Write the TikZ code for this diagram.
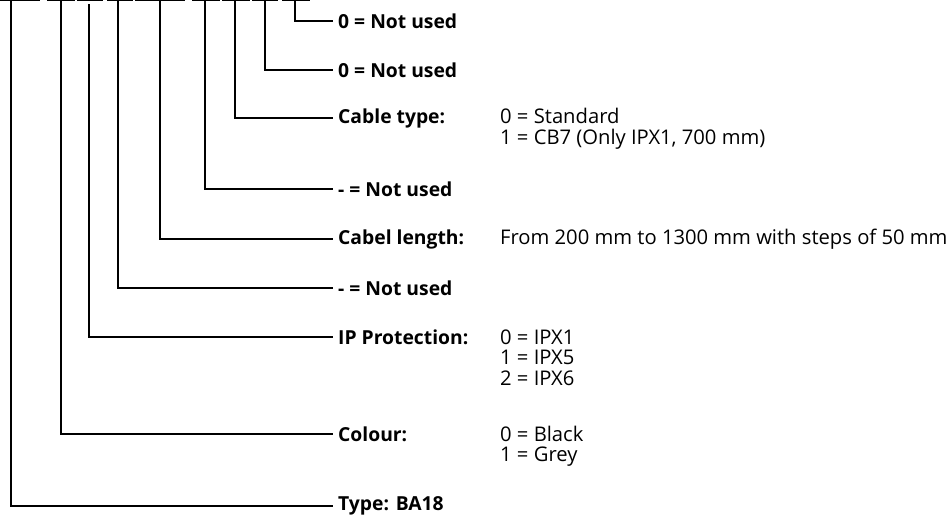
\documentclass[tikz,border=0pt]{standalone}
\usepackage{fontspec}
\setmainfont{Open Sans}
\begin{document}
\begin{tikzpicture}[x=1pt,y=-1pt,
  lead/.style={line width=1.5pt,line cap=rect},
  topbar/.style={line width=1.6pt},
  lbl/.style={anchor=west,inner sep=0pt,font=\fontsize{19.3}{20}\selectfont\bfseries},
  val/.style={anchor=base west,inner sep=0pt,font=\fontsize{20.2}{20}\selectfont}]
\useasboundingbox (0,0) rectangle (948,517);
% top underscores
\foreach \a/\b in {0/40,47/75,77/103,107/133,135/185,192/220,222/250,252/278,282/310}
  \draw[topbar] (\a,0.6) -- (\b,0.6);
% top coordinates
\coordinate (t1) at (11,0);
\coordinate (t2) at (61,0);
\coordinate (t3) at (89,5);
\coordinate (t4) at (118,0);
\coordinate (t5) at (160,0);
\coordinate (t6) at (205,0);
\coordinate (t7) at (235,0);
\coordinate (t8) at (265,0);
\coordinate (t9) at (295,0);
% labels
\node[lbl] (l9) at (338,21) {0 = Not used};
\node[lbl] (l8) at (338,70) {0 = Not used};
\node[lbl] (l7) at (338,118) {Cable type:};
\node[lbl] (l6) at (338,189) {- = Not used};
\node[lbl] (l5) at (338,239) {Cabel length:};
\node[lbl] (l4) at (338,288) {- = Not used};
\node[lbl] (l3) at (338,337) {IP Protection:};
\node[lbl] (l2) at (338,434) {Colour:};
\node[lbl] (l1) at (338,506) {Type: BA18};
% values
\node[val] (v7) at (l7.base -| 500,0) {\begin{tabular}[t]{@{}l@{}}0 = Standard\\1 = CB7 (Only IPX1, 700 mm)\end{tabular}};
\node[val] (v5) at (l5.base -| 500,0) {From 200 mm to 1300 mm with steps of 50 mm};
\node[val] (v3) at (l3.base -| 500,0) {\begin{tabular}[t]{@{}l@{}}0 = IPX1\\1 = IPX5\\2 = IPX6\end{tabular}};
\node[val] (v2) at (l2.base -| 500,0) {\begin{tabular}[t]{@{}l@{}}0 = Black\\1 = Grey\end{tabular}};
% leaders
\foreach \i in {1,...,9}
  \draw[lead] (t\i) |- ([xshift=-6pt]l\i.west);
\end{tikzpicture}
\end{document}
